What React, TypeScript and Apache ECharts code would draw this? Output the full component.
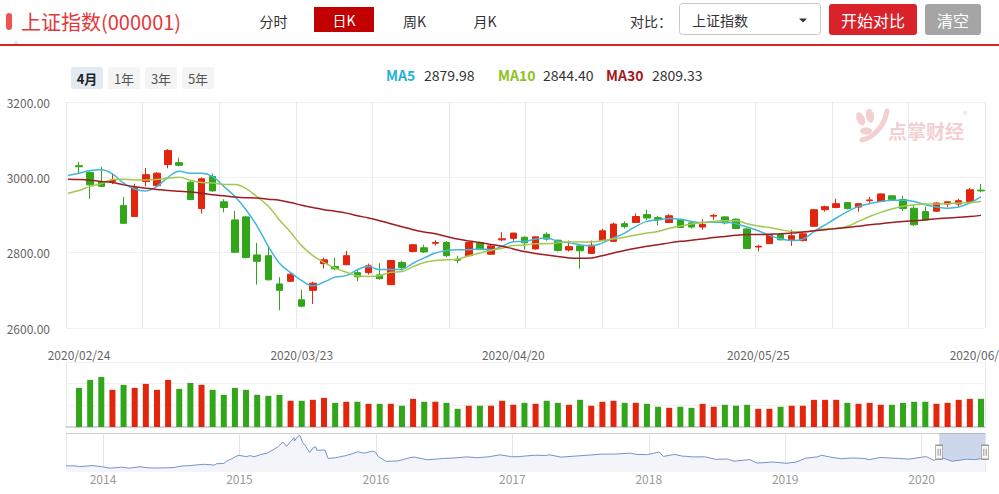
import React, { useEffect, useRef } from 'react';
import * as echarts from 'echarts';

// ---------- data ----------
const dates = [
  '2020/02/24','2020/02/25','2020/02/26','2020/02/27','2020/02/28','2020/03/02','2020/03/03','2020/03/04','2020/03/05','2020/03/06',
  '2020/03/09','2020/03/10','2020/03/11','2020/03/12','2020/03/13','2020/03/16','2020/03/17','2020/03/18','2020/03/19','2020/03/20',
  '2020/03/23','2020/03/24','2020/03/25','2020/03/26','2020/03/27','2020/03/30','2020/03/31','2020/04/01','2020/04/02','2020/04/03',
  '2020/04/07','2020/04/08','2020/04/09','2020/04/10','2020/04/13','2020/04/14','2020/04/15','2020/04/16','2020/04/17','2020/04/20',
  '2020/04/21','2020/04/22','2020/04/23','2020/04/24','2020/04/27','2020/04/28','2020/04/29','2020/04/30','2020/05/06','2020/05/07',
  '2020/05/08','2020/05/11','2020/05/12','2020/05/13','2020/05/14','2020/05/15','2020/05/18','2020/05/19','2020/05/20','2020/05/21',
  '2020/05/22','2020/05/25','2020/05/26','2020/05/27','2020/05/28','2020/05/29','2020/06/01','2020/06/02','2020/06/03','2020/06/04',
  '2020/06/05','2020/06/08','2020/06/09','2020/06/10','2020/06/11','2020/06/12','2020/06/15','2020/06/16','2020/06/17','2020/06/18',
  '2020/06/19','2020/06/22'
];
const opens = [
  3031,3013,2989,2989,2925,2896,2989,2978,3034,3039,
  2987,2917,3002,2935,2887,2895,2794,2792,2717,2724,
  2675,2700,2771,2763,2768,2747,2747,2741,2715,2774,
  2803,2813,2825,2827,2782,2792,2826,2796,2834,2838,
  2841,2810,2849,2833,2807,2818,2798,2832,2830,2877,
  2880,2901,2893,2880,2887,2879,2868,2897,2895,2889,
  2863,2815,2824,2848,2834,2832,2870,2914,2920,2933,
  2921,2938,2936,2951,2941,2918,2909,2910,2929,2929,
  2936,2966
];
const closes = [
  3028,2980,2976,2992,2878,2972,3007,3011,3071,3032,
  2941,2996,2964,2920,2801,2787,2777,2728,2700,2743,
  2658,2719,2781,2757,2792,2736,2765,2731,2779,2761,
  2821,2802,2827,2792,2780,2827,2808,2818,2837,2852,
  2826,2842,2836,2806,2816,2805,2820,2858,2876,2869,
  2896,2892,2888,2898,2867,2868,2875,2899,2879,2864,
  2811,2817,2848,2834,2845,2850,2914,2922,2930,2917,
  2930,2940,2956,2941,2917,2874,2887,2932,2935,2938,
  2967,2964
];
const lows = [
  3009,2943,2974,2982,2876,2895,2976,2975,3024,3029,
  2940,2904,2962,2907,2800,2785,2715,2726,2647,2722,
  2655,2664,2758,2753,2767,2724,2742,2728,2714,2752,
  2801,2799,2819,2788,2772,2790,2807,2794,2831,2832,
  2808,2808,2832,2803,2803,2758,2797,2831,2829,2864,
  2879,2886,2872,2879,2866,2864,2861,2887,2875,2863,
  2810,2803,2823,2833,2818,2830,2869,2909,2918,2915,
  2909,2932,2935,2940,2911,2871,2886,2909,2921,2921,
  2935,2960
];
const highs = [
  3041,3016,3027,3010,2948,2983,3025,3014,3075,3052,
  2990,3000,3010,2942,2911,2898,2826,2815,2735,2747,
  2701,2723,2787,2786,2805,2755,2771,2772,2780,2779,
  2822,2821,2833,2831,2792,2829,2829,2821,2854,2853,
  2843,2843,2854,2835,2832,2820,2832,2863,2880,2883,
  2904,2914,2898,2902,2890,2883,2889,2903,2897,2891,
  2865,2821,2849,2851,2861,2853,2916,2925,2943,2934,
  2931,2948,2957,2952,2951,2927,2922,2934,2936,2943,
  2972,2983
];
// volume (亿手)
const volumes = [
  3.61,4.35,4.62,3.43,3.89,3.61,3.98,3.43,4.35,3.52,
  4.07,3.89,3.43,2.97,3.61,3.43,2.97,2.88,2.97,2.42,
  2.42,2.51,2.69,2.23,2.33,2.33,2.14,2.14,2.14,1.96,
  2.60,2.33,2.33,2.23,1.68,1.96,1.96,1.96,2.42,2.05,
  2.23,2.14,2.42,2.23,2.05,2.51,1.96,2.33,2.42,2.23,
  2.23,2.14,1.87,1.77,1.87,1.77,2.14,1.87,2.05,1.96,
  2.05,1.68,1.68,1.87,1.96,1.96,2.51,2.51,2.51,2.23,
  2.14,2.23,2.05,2.05,2.23,2.33,2.33,2.14,2.23,2.51,
  2.60,2.60
];
// moving averages, first value is the trading day before 2020/02/24
const ma5 = [3005,
  3011,3018,3020,3009,2985,2969,2964,2976,3000,3016,
  3011,3011,3002,2976,2949,2914,2870,2817,2772,2747,
  2726,2712,2722,2735,2739,2755,2763,2755,2755,2756,
  2772,2786,2799,2806,2808,2808,2810,2808,2817,2829,
  2830,2836,2839,2830,2826,2821,2818,2826,2839,2852,
  2870,2883,2887,2891,2889,2883,2880,2881,2881,2877,
  2868,2858,2846,2837,2832,2836,2856,2874,2892,2909,
  2923,2930,2936,2939,2939,2936,2927,2921,2918,2921,
  2932,2948];
const ma10 = [2958,
  2965,2976,2983,2994,2995,2993,2993,2994,2998,3000,
  2992,2986,2985,2981,2981,2970,2948,2923,2887,2854,
  2818,2792,2774,2759,2748,2739,2737,2739,2748,2750,
  2763,2774,2779,2781,2783,2792,2799,2806,2812,2819,
  2820,2824,2824,2826,2829,2828,2828,2832,2836,2841,
  2847,2852,2856,2865,2871,2876,2880,2883,2885,2885,
  2877,2871,2867,2861,2856,2855,2858,2863,2864,2870,
  2883,2896,2907,2916,2923,2927,2929,2929,2930,2932,
  2933,2936];
const ma30 = [2995,
  2994,2992,2989,2986,2980,2975,2971,2968,2965,2963,
  2961,2958,2954,2951,2948,2946,2945,2942,2939,2933,
  2926,2920,2914,2910,2905,2898,2892,2885,2877,2869,
  2861,2855,2850,2843,2836,2831,2827,2822,2817,2810,
  2803,2798,2794,2790,2786,2785,2786,2792,2799,2806,
  2812,2817,2821,2826,2830,2833,2836,2840,2843,2846,
  2848,2848,2849,2850,2852,2855,2858,2861,2864,2867,
  2870,2874,2877,2880,2883,2885,2887,2890,2892,2894,
  2896,2899];
const dateLabelIndex = [0, 20, 39, 61, 81];
const legendNames = ['MA5', 'MA10', 'MA30'];
const legendValues = ['2879.98', '2844.40', '2809.33'];

// navigator history (上证指数)
const navDates = [
  '2013-09-24','2013-10-15','2013-10-31','2013-11-20','2013-12-05','2013-12-31','2014-01-20','2014-02-20','2014-03-12','2014-04-10',
  '2014-04-30','2014-05-20','2014-06-20','2014-07-10','2014-07-31','2014-08-20','2014-09-15','2014-09-30','2014-10-27','2014-10-31',
  '2014-11-20','2014-11-28','2014-12-09','2014-12-22','2014-12-31','2015-01-19','2015-01-30','2015-02-09','2015-02-27','2015-03-16',
  '2015-03-31','2015-04-15','2015-04-27','2015-05-07','2015-05-27','2015-05-28','2015-06-05','2015-06-12','2015-06-19','2015-06-26',
  '2015-07-08','2015-07-17','2015-07-24','2015-07-27','2015-08-07','2015-08-18','2015-08-26','2015-09-15','2015-10-09','2015-10-30',
  '2015-11-13','2015-11-30','2015-12-23','2015-12-31','2016-01-07','2016-01-28','2016-02-29','2016-03-31','2016-04-13','2016-05-18',
  '2016-06-30','2016-07-29','2016-08-31','2016-09-30','2016-10-31','2016-11-29','2016-12-30','2017-01-16','2017-02-28','2017-03-31',
  '2017-04-11','2017-05-11','2017-06-30','2017-07-31','2017-08-31','2017-09-29','2017-11-13','2017-11-30','2017-12-29','2018-01-29',
  '2018-02-09','2018-03-12','2018-03-30','2018-04-30','2018-05-31','2018-06-29','2018-07-31','2018-08-17','2018-09-28','2018-10-18',
  '2018-11-30','2019-01-03','2019-01-31','2019-02-25','2019-03-29','2019-04-08','2019-04-30','2019-05-31','2019-06-28','2019-07-31',
  '2019-08-15','2019-09-12','2019-10-31','2019-11-29','2019-12-31','2020-01-14','2020-02-03','2020-02-21','2020-03-23','2020-04-30',
  '2020-05-22','2020-06-19'
];
const navValues = [
  2207,2220,2141,2200,2245,2116,1992,2090,1990,2130,
  2026,2008,2024,2060,2201,2237,2330,2364,2290,2420,
  2450,2683,2856,3128,3235,3116,3210,3095,3310,3449,
  3748,4085,4527,4112,4941,4620,5023,5166,4478,4193,
  3507,3957,4070,3725,3744,3749,2927,3005,3183,3382,
  3580,3445,3636,3539,3125,2656,2688,3004,3066,2807,
  2930,2979,3085,3005,3100,3283,3104,3104,3242,3223,
  3289,3062,3192,3273,3361,3349,3447,3317,3307,3559,
  3129,3327,3169,3082,3095,2847,2876,2669,2821,2486,
  2588,2464,2585,2961,3091,3245,3078,2899,2979,2932,
  2815,3031,2929,2872,3050,3106,2746,3039,2660,2860,
  2814,2967
];
const navRange = ['2013-09-24', '2020-06-19'];
const navSelection = ['2020-02-17', '2020-06-19'];

// ---------- styling ----------
const FONT = '"Noto Sans CJK SC", "Noto Sans", sans-serif';
const UP = '#e2250d';
const DOWN = '#32a619';
const MA_COLORS = ['#42b7dd', '#a3c851', '#9d1d22'];
const LEGEND_COLORS = ['#2aafd5', '#8dc21f', '#a3191e'];
const X_MIN = -1.17;
const X_MAX = 81.36;

const decYear = (s: string) => {
  const [y, m, d] = s.split('-').map(Number);
  const a = Date.UTC(y, 0, 1);
  const b = Date.UTC(y + 1, 0, 1);
  return y + (Date.UTC(y, m - 1, d) - a) / (b - a);
};

const T = (x: number, y: number, text: string, o: any = {}) => ({
  type: 'text',
  x,
  y,
  silent: true,
  style: {
    text,
    fill: o.fill || '#333',
    fontSize: o.size || 14,
    fontFamily: FONT,
    fontWeight: o.weight || 'normal',
    textAlign: o.align || 'left',
    align: o.align || 'left',
    textVerticalAlign: 'middle',
    verticalAlign: 'middle',
  },
});
const R = (x: number, y: number, w: number, h: number, fill: string, r = 0, stroke?: string) => ({
  type: 'rect',
  silent: true,
  shape: { x, y, width: w, height: h, r },
  style: stroke ? { fill, stroke, lineWidth: 1 } : { fill },
});

function buildOption() {
  const candleData = opens.map((o, i) => [i, o, closes[i], lows[i], highs[i]]);
  const volData = volumes.map((v, i) => ({
    value: [i, v],
    itemStyle: { color: closes[i] >= opens[i] ? UP : DOWN },
  }));
  const maSeries = [ma5, ma10, ma30].map((arr, k) => ({
    type: 'line',
    name: legendNames[k],
    xAxisIndex: 0,
    yAxisIndex: 0,
    data: arr.map((v, j) => [j - 1, v]),
    smooth: 0.4,
    showSymbol: false,
    symbol: 'none',
    lineStyle: { color: MA_COLORS[k], width: 1.5 },
    z: 3,
  }));
  const navMin = decYear(navRange[0]);
  const navMax = decYear(navRange[1]);
  const selA = decYear(navSelection[0]);
  const selB = decYear(navSelection[1]);
  const navData = navDates.map((d, i) => [decYear(d), navValues[i]]);
  const handleY = 3530;
  const handle = (x: number) => [
    { coord: [x, handleY], symbol: 'rect', symbolSize: [7, 14], itemStyle: { color: '#f7f7f7', borderColor: '#9a9a9a', borderWidth: 1 } },
    { coord: [x, handleY], symbol: 'path://M0,0H1V8H0Z M3,0H4V8H3Z', symbolSize: [3, 7], itemStyle: { color: '#777' } },
  ];

  const legendX = [[386, 424], [498, 543], [606, 652]];
  const legendEls: any[] = [];
  legendNames.forEach((n, k) => {
    legendEls.push(T(legendX[k][0], 75, n, { fill: LEGEND_COLORS[k], weight: 'bold', size: 14 }));
    legendEls.push(T(legendX[k][1], 75, legendValues[k], { fill: '#333', size: 14 }));
  });

  const pink = '#f3cfd2';
  const graphics: any[] = [
    // header
    R(6, 13, 6, 17, '#ef5350', 3),
    T(21, 21, '上证指数(000001)', { fill: '#e2383a', size: 20 }),
    T(273.5, 20.5, '分时', { align: 'center' }),
    R(314, 7, 60, 25, '#c20000'),
    T(344, 20, '日K', { align: 'center', fill: '#fff' }),
    T(414.5, 20.5, '周K', { align: 'center' }),
    T(485, 20.5, '月K', { align: 'center' }),
    T(630, 21, '对比：', { fill: '#333' }),
    R(679.5, 3.5, 141, 31, '#fff', 3, '#c8c8c8'),
    T(692, 19.5, '上证指数', { fill: '#333' }),
    { type: 'polygon', silent: true, shape: { points: [[799, 18.5], [807, 18.5], [803, 22.5]] }, style: { fill: '#333' } },
    R(829, 4, 88, 31, '#d9222a', 3),
    T(873, 19.5, '开始对比', { align: 'center', fill: '#fff', size: 16 }),
    R(925, 4, 56, 31, '#a5a5a5', 3),
    T(953, 19.5, '清空', { align: 'center', fill: '#fff', size: 16 }),
    R(0, 44, 999, 2, '#d9222a'),
    { type: 'polygon', silent: true, shape: { points: [[13, 44], [16, 40.5], [19, 44]] }, style: { fill: '#e2e2e2' } },
    // range buttons
    R(71, 67, 32, 22, '#e3e9f3', 2),
    T(87, 78, '4月', { align: 'center', weight: 'bold', size: 13, fill: '#222' }),
    R(108, 67, 32, 22, '#f4f4f4', 2),
    T(124, 78, '1年', { align: 'center', size: 13, fill: '#555' }),
    R(145, 67, 32, 22, '#f4f4f4', 2),
    T(161, 78, '3年', { align: 'center', size: 13, fill: '#555' }),
    R(182, 67, 32, 22, '#f4f4f4', 2),
    T(198, 78, '5年', { align: 'center', size: 13, fill: '#555' }),
    ...legendEls,
    // watermark
    { type: 'ellipse', silent: true, shape: { cx: 861, cy: 119, rx: 4, ry: 7 }, rotation: 0.35, originX: 861, originY: 119, style: { fill: pink } },
    { type: 'ellipse', silent: true, shape: { cx: 870, cy: 116, rx: 4, ry: 7 }, rotation: 0.2, originX: 870, originY: 116, style: { fill: pink } },
    { type: 'bezierCurve', silent: true, shape: { x1: 887, y1: 111, x2: 862, y2: 140, cpx1: 884, cpy1: 128, cpx2: 872, cpy2: 138 }, style: { stroke: pink, lineWidth: 5, fill: null, lineCap: 'round' } },
    { type: 'ellipse', silent: true, shape: { cx: 866, cy: 131, rx: 6, ry: 3.5 }, style: { fill: pink } },
    T(888, 130, '点掌财经', { fill: pink, size: 19, weight: 'bold' }),
    T(963, 114, '®', { fill: pink, size: 9 }),
  ];

  return {
    animation: false,
    backgroundColor: '#ffffff',
    textStyle: { fontFamily: FONT },
    grid: [
      { left: 66, right: 14, top: 102, height: 226, outerBoundsMode: 'none', containLabel: false },
      { left: 66, right: 14, top: 362, height: 65, outerBoundsMode: 'none', containLabel: false },
      { left: 66, right: 14, top: 433, height: 39, outerBoundsMode: 'none', containLabel: false },
    ],
    xAxis: [
      {
        gridIndex: 0, type: 'value', min: X_MIN, max: X_MAX,
        axisLine: { show: false }, axisTick: { show: false }, splitLine: { show: false },
        axisLabel: {
          customValues: dateLabelIndex,
          formatter: (v: number) => dates[Math.round(v)] ?? '',
          color: '#666', fontSize: 12, margin: 20, fontFamily: FONT,
          hideOverlap: false,
        },
      },
      {
        gridIndex: 0, type: 'value', min: 0, max: 12, interval: 1, position: 'top',
        axisLine: { show: false }, axisTick: { show: false }, axisLabel: { show: false },
        splitLine: { show: true, lineStyle: { color: '#e4e9f0', width: 1 } },
      },
      {
        gridIndex: 1, type: 'value', min: X_MIN, max: X_MAX,
        axisLine: { show: true, lineStyle: { color: '#c4c9d2', width: 1.5 } },
        axisTick: { show: false }, axisLabel: { show: false }, splitLine: { show: false },
      },
      {
        gridIndex: 1, type: 'value', min: 0, max: 1, interval: 1, position: 'top',
        axisLine: { show: false }, axisTick: { show: false }, axisLabel: { show: false },
        splitLine: { show: true, lineStyle: { color: '#e4e9f0', width: 1 } },
      },
      {
        gridIndex: 2, type: 'value', min: navMin, max: navMax,
        axisLine: { show: false }, axisTick: { show: false },
        axisLabel: {
          formatter: (v: number) => (Math.abs(v - Math.round(v)) < 1e-6 ? String(Math.round(v)) : ''),
          color: '#999', fontSize: 12, margin: 0, fontFamily: FONT,
        },
        splitLine: { show: true, lineStyle: { color: '#e6e6e6', width: 1 } },
      },
      {
        gridIndex: 2, type: 'value', min: 0, max: 1, position: 'top',
        axisLine: { show: true, lineStyle: { color: '#cfcfcf', width: 1 } },
        axisTick: { show: false }, axisLabel: { show: false }, splitLine: { show: false },
      },
    ],
    yAxis: [
      {
        gridIndex: 0, type: 'value', min: 2600, max: 3200, interval: 200,
        axisLine: { show: false }, axisTick: { show: false },
        axisLabel: { formatter: (v: number) => v.toFixed(2), color: '#666', fontSize: 12, margin: 16, fontFamily: FONT },
        splitLine: { show: true, lineStyle: { color: '#f1f1f1' } },
      },
      {
        gridIndex: 1, type: 'value', min: 0, max: 6, interval: 2,
        axisLine: { show: false }, axisTick: { show: false }, axisLabel: { show: false },
        splitLine: { show: true, lineStyle: { color: '#f1f1f1' } },
      },
      { gridIndex: 2, type: 'value', min: 1620, max: 5400, show: false },
    ],
    series: [
      {
        type: 'candlestick',
        name: '上证指数',
        xAxisIndex: 0,
        yAxisIndex: 0,
        data: candleData,
        barWidth: 7,
        itemStyle: { color: UP, color0: DOWN, borderColor: UP, borderColor0: DOWN, borderWidth: 1 },
        z: 2,
      },
      ...maSeries,
      {
        type: 'bar',
        name: '成交量',
        xAxisIndex: 2,
        yAxisIndex: 1,
        barWidth: 6,
        data: volData,
      },
      {
        type: 'line',
        name: '历史',
        xAxisIndex: 4,
        yAxisIndex: 2,
        data: navData,
        showSymbol: false,
        symbol: 'none',
        lineStyle: { color: '#7394c9', width: 1 },
        areaStyle: { color: '#f3f5fa', opacity: 1 },
        markArea: {
          silent: true,
          itemStyle: { color: 'rgba(102,133,194,0.33)' },
          data: [[{ xAxis: selA }, { xAxis: selB }]],
        },
        markPoint: {
          silent: true,
          label: { show: false },
          data: [...handle(selA), ...handle(selB)],
        },
      },
    ],
    graphic: { elements: graphics },
  };
}

export default function App() {
  const ref = useRef<HTMLDivElement>(null);
  useEffect(() => {
    if (!ref.current) return;
    const chart = echarts.init(ref.current, null, { renderer: 'svg' });
    chart.setOption(buildOption() as any);
    return () => chart.dispose();
  }, []);
  return (
    <div
      ref={ref}
      style={{ position: 'fixed', left: 0, top: 0, width: 999, height: 494, background: '#fff' }}
    />
  );
}
